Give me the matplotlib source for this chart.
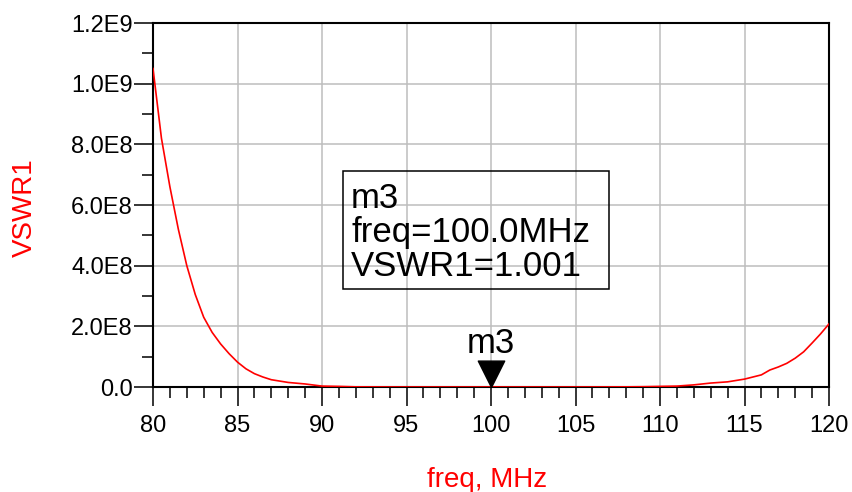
import matplotlib.pyplot as plt
from matplotlib.path import Path
from matplotlib.patches import Rectangle

# sweep (MHz, VSWR1)
freq = [80, 80.5, 81, 81.5, 82, 82.5, 83, 83.5, 84, 84.5, 85, 85.5, 86, 86.5,
        87, 88, 89, 90, 91, 92, 94, 96, 98, 100, 102, 104, 106, 108, 109, 110,
        111, 112, 113, 114, 115, 116, 116.5, 117, 117.5, 118, 118.5, 119,
        119.5, 120]
vswr1 = [1.05e9, 8.2e8, 6.6e8, 5.2e8, 4.0e8, 3.05e8, 2.3e8, 1.8e8, 1.42e8,
         1.1e8, 8.2e7, 6.0e7, 4.4e7, 3.3e7, 2.4e7, 1.5e7, 1.0e7, 3.0e6, 2.0e6,
         5.0e5, 1.0e5, 2.0e4, 500.0, 1.001, 300.0, 1.0e4, 1.0e5, 5.0e5, 1.0e6,
         2.0e6, 3.0e6, 7.0e6, 1.3e7, 1.7e7, 2.6e7, 4.0e7, 5.6e7, 6.6e7, 7.8e7,
         9.5e7, 1.16e8, 1.45e8, 1.75e8, 2.08e8]

x_ticks = [80, 85, 90, 95, 100, 105, 110, 115, 120]
y_ticks = [0.0, 2.0e8, 4.0e8, 6.0e8, 8.0e8, 1.0e9, 1.2e9]
y_tick_labels = ["0.0", "2.0E8", "4.0E8", "6.0E8", "8.0E8", "1.0E9", "1.2E9"]

marker_name = "m3"
marker_freq = 100.0
marker_value = 1.001

plt.rcParams["font.family"] = ["Liberation Sans", "DejaVu Sans"]

fig = plt.figure(figsize=(8.53, 4.92), dpi=100)
ax = fig.add_axes([153 / 853, 1 - 387 / 492, 676 / 853, 364 / 492])

ax.plot(freq, vswr1, color="#ff0000", linewidth=1.2, zorder=3)

ax.set_xlim(80, 120)
ax.set_ylim(0, 1.2e9)
ax.set_xticks(x_ticks)
ax.set_xticks(range(80, 121), minor=True)
ax.set_yticks(y_ticks)
ax.set_yticklabels(y_tick_labels)
ax.set_yticks([1e8 * k for k in range(1, 12, 2)], minor=True)

ax.grid(True, which="major", color="#bdbdbd", linewidth=1.1)
ax.set_axisbelow(True)

for s in ax.spines.values():
    s.set_color("black")
    s.set_linewidth(1.5)

ax.tick_params(axis="both", which="major", direction="out", length=14,
               width=1.1, labelsize=17, colors="black")
ax.tick_params(axis="both", which="minor", direction="out", length=8,
               width=1.1)
ax.tick_params(axis="x", which="major", pad=6)
ax.tick_params(axis="y", which="major", pad=0.5)

# axis titles in red
fig.text(25 / 853, 1 - 208 / 492, "VSWR1", rotation=90, color="#ff0000",
         fontsize=20, ha="center", va="center")
fig.text(487 / 853, 1 - 487 / 492, "freq, MHz", color="#ff0000",
         fontsize=20, ha="center", va="baseline")

# marker: downward triangle with its tip on the trace
tri = Path([(0, 0), (-0.5, 1), (0.5, 1), (0, 0)],
           [Path.MOVETO, Path.LINETO, Path.LINETO, Path.CLOSEPOLY])
ax.plot([marker_freq], [marker_value], marker=tri, markersize=38,
        color="black", linestyle="none", zorder=5, clip_on=False)
ax.annotate(marker_name, (marker_freq, marker_value), xytext=(0, 24.5),
            textcoords="offset points", ha="center", va="baseline",
            fontsize=25, annotation_clip=False)

# marker readout box
ax.add_patch(Rectangle((0.281, 0.268), 0.3935, 0.325, transform=ax.transAxes,
                       facecolor="none", edgecolor="black", linewidth=1.1,
                       zorder=4))
readout = f"{marker_name}\nfreq={marker_freq:.1f}MHz\nVSWR1={marker_value:.3f}"
ax.text(0.293, (387 - 276) / 364, readout, transform=ax.transAxes,
        fontsize=25, ha="left", va="baseline", linespacing=1.04, zorder=4)

fig.savefig("out.png", dpi=100)
